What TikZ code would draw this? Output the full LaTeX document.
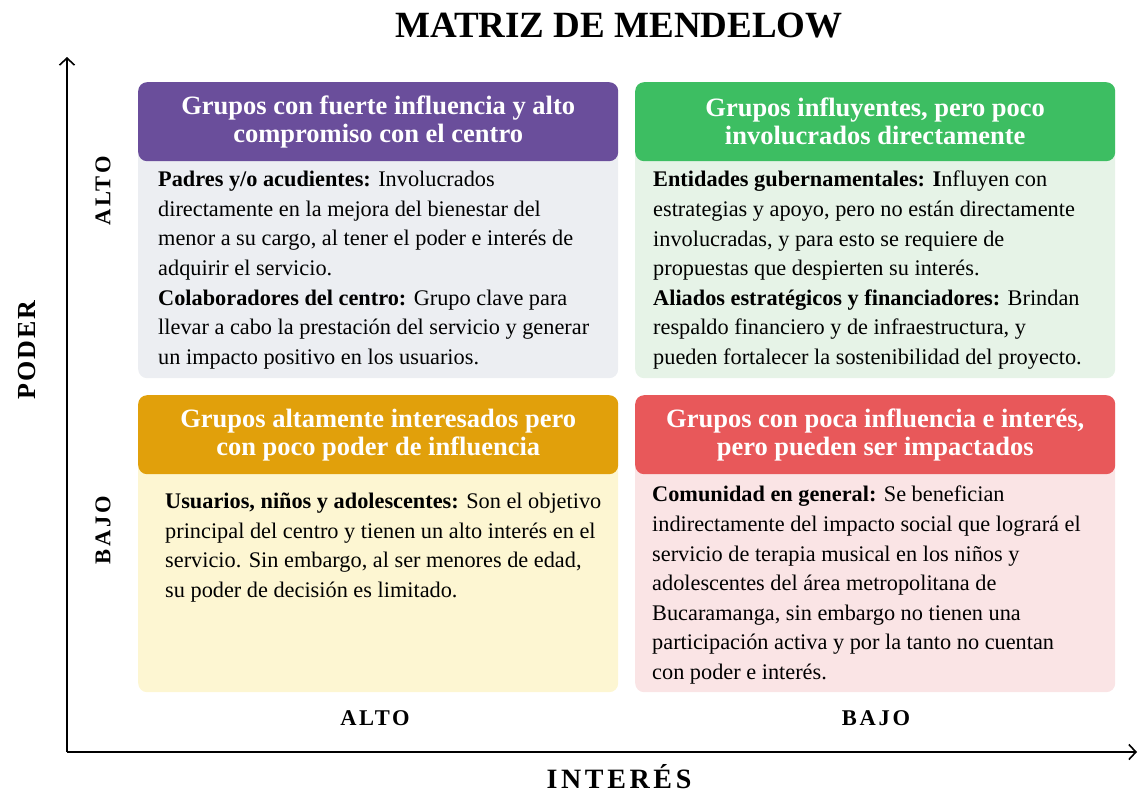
\documentclass[tikz,border=0pt]{standalone}
\usepackage{fontspec}
\setmainfont{Liberation Serif}
\newfontfamily\spaced[LetterSpace=12]{Liberation Serif}
\newfontfamily\spacedb[LetterSpace=8]{Liberation Serif}
\newfontfamily\spacedc[LetterSpace=13]{Liberation Serif}
\usetikzlibrary{arrows.meta}
\definecolor{hpurple}{HTML}{6A4E9B}
\definecolor{hgreen}{HTML}{3DBE62}
\definecolor{horange}{HTML}{E1A00B}
\definecolor{hred}{HTML}{E8585A}
\definecolor{bgray}{HTML}{ECEEF2}
\definecolor{bgreen}{HTML}{E6F3E7}
\definecolor{byellow}{HTML}{FDF6D2}
\definecolor{bpink}{HTML}{FAE4E5}
\tikzset{
  x=1pt,y=1pt,
  panel/.style={rounded corners=9pt, minimum width=480pt, anchor=north west, inner sep=0pt, draw=none},
  header/.style={panel, minimum height=79pt, text=white, font=\fontsize{26.5}{28}\selectfont\bfseries, align=center},
  bodytext/.style={anchor=north west, inner sep=0pt, align=left, font=\fontsize{22.3}{29.6}\selectfont},
  axlabel/.style={font=\spaced\bfseries\fontsize{22.5}{24}\selectfont},
  axtitle/.style={font=\spacedb\bfseries\fontsize{26}{30}\selectfont},
  axtitlex/.style={font=\spacedc\bfseries\fontsize{28}{30}\selectfont},
  axis/.style={line width=1.8pt, -{Straight Barb[length=7pt,width=15pt,line width=1.6pt]}}
}
\begin{document}
\begin{tikzpicture}
\useasboundingbox (0,0) rectangle (1138,-793);
% title
\node[font=\fontsize{37}{40}\selectfont\bfseries] (title) at (619,-26) {MATRIZ DE MENDELOW};
% axes
\coordinate (o) at (67,-752);
\coordinate (ytip) at (67,-57);
\coordinate (xtip) at (1137,-752);
\draw[axis] (o) -- (ytip);
\draw[axis] (o) -- (xtip);
% panels TL
\node[panel, fill=bgray, minimum height=296pt] (tlb) at (138,-82) {};
\node[header, fill=hpurple] (tlh) at (138,-82) {Grupos con fuerte influencia y alto\\compromiso con el centro};
\node[bodytext] (tlt) at (158,-171) {\textbf{Padres y/o acudientes:} Involucrados\\directamente en la mejora del bienestar del\\menor a su cargo, al tener el poder e interés de\\adquirir el servicio.\\\textbf{Colaboradores del centro:} Grupo clave para\\llevar a cabo la prestación del servicio y generar\\un impacto positivo en los usuarios.};
% TR
\node[panel, fill=bgreen, minimum height=296pt] (trb) at (635,-82) {};
\node[header, fill=hgreen] (trh) at (635,-82) {Grupos influyentes, pero poco\\involucrados directamente};
\node[bodytext] (trt) at (653,-171) {\textbf{Entidades gubernamentales: I}nfluyen con\\estrategias y apoyo, pero no están directamente\\involucradas, y para esto se requiere de\\propuestas que despierten su interés.\\\textbf{Aliados estratégicos y financiadores:} Brindan\\respaldo financiero y de infraestructura, y\\pueden fortalecer la sostenibilidad del proyecto.};
% BL
\node[panel, fill=byellow, minimum height=297pt] (blb) at (138,-395) {};
\node[header, fill=horange] (blh) at (138,-395) {Grupos altamente interesados pero\\con poco poder de influencia};
\node[bodytext] (blt) at (165,-493) {\textbf{Usuarios, niños y adolescentes:} Son el objetivo\\principal del centro y tienen un alto interés en el\\servicio. Sin embargo, al ser menores de edad,\\su poder de decisión es limitado.};
% BR
\node[panel, fill=bpink, minimum height=297pt] (brb) at (635,-395) {};
\node[header, fill=hred] (brh) at (635,-395) {Grupos con poca influencia e interés,\\pero pueden ser impactados};
\node[bodytext] (brt) at (652,-486) {\textbf{Comunidad en general:} Se benefician\\indirectamente del impacto social que logrará el\\servicio de terapia musical en los niños y\\adolescentes del área metropolitana de\\Bucaramanga, sin embargo no tienen una\\participación activa y por la tanto no cuentan\\con poder e interés.};
% axis labels
\node[axlabel, rotate=90] (yalto) at (103,-191) {ALTO};
\node[axlabel, rotate=90] (ybajo) at (103,-530) {BAJO};
\node[axtitle, rotate=90] (poder) at (27,-350) {PODER};
\node[axlabel] (xalto) at (375,-718) {ALTO};
\node[axlabel] (xbajo) at (876,-718) {BAJO};
\node[axtitlex] (interes) at (619,-777) {INTERÉS};
\end{tikzpicture}
\end{document}
